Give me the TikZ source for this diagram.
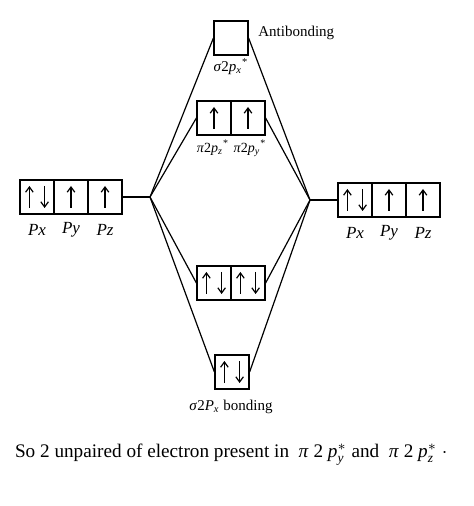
\documentclass[tikz,border=0pt]{standalone}
\usepackage{amsmath}
\usepackage{fontspec}
\setmainfont{Liberation Serif}
\usetikzlibrary{arrows.meta}

\tikzset{
    orb/.style={draw, line width=0.6pt, minimum width=17pt, minimum height=17pt, inner sep=0pt},
    spin/.style={line width=0.6pt, -{Straight Barb[length=2.6pt,width=3.8pt]}},
    lvl/.style={line width=0.6pt},
    plbl/.style={font=\fontsize{8.5}{10}\selectfont\itshape},
    mlbl/.style={font=\fontsize{7.5}{9}\selectfont, inner sep=1pt},
}
\newcommand{\upspin}[2][0pt]{\draw[spin] ([xshift=#1,yshift=-5.5pt]#2.center) -- ([xshift=#1,yshift=5.5pt]#2.center);}
\newcommand{\dnspin}[2][0pt]{\draw[spin] ([xshift=#1,yshift=5.5pt]#2.center) -- ([xshift=#1,yshift=-5.5pt]#2.center);}
\newcommand{\pairspin}[1]{\upspin[-3.8pt]{#1}\dnspin[3.8pt]{#1}}
\newcommand{\orbname}[3]{\textit{#1}2\textit{#2}\textsubscript{\itshape #3}}

\begin{document}
\begin{tikzpicture}[x=0.5pt, y=-0.5pt]
    \useasboundingbox (0,0) rectangle (474,506);

    %atomic orbitals, left and right
        \node[orb] (L1) at (37,197) {};
        \node[orb] (L2) at (71,197) {};
        \node[orb] (L3) at (105,197) {};
        \node[orb] (R1) at (355,200) {};
        \node[orb] (R2) at (389,200) {};
        \node[orb] (R3) at (423,200) {};
        \coordinate[] (jl) at (150,197);
        \coordinate[] (jr) at (310,200);

    %molecular orbitals
        \node[orb] (sgs) at (231,38) {};
        \node[orb] (pis1) at (214,118) {};
        \node[orb] (pis2) at (248,118) {};
        \node[orb] (pi1) at (214,283) {};
        \node[orb] (pi2) at (248,283) {};
        \node[orb] (sg) at (232,372) {};

    %electrons
        \pairspin{L1} \upspin{L2} \upspin{L3}
        \pairspin{R1} \upspin{R2} \upspin{R3}
        \upspin{pis1} \upspin{pis2}
        \pairspin{pi1} \pairspin{pi2}
        \pairspin{sg}

    %correlation lines
        \draw[lvl] (L3.east) -- (jl);
        \draw[lvl] (jr) -- (R1.west);
        \draw[lvl] (jl) -- (sgs.west);
        \draw[lvl] (jl) -- (pis1.west);
        \draw[lvl] (jl) -- (pi1.west);
        \draw[lvl] (jl) -- (sg.west);
        \draw[lvl] (jr) -- (sgs.east);
        \draw[lvl] (jr) -- (pis2.east);
        \draw[lvl] (jr) -- (pi2.east);
        \draw[lvl] (jr) -- (sg.east);

    %labels
        \node[plbl] (tL1) at (37,230) {Px};
        \node[plbl] (tL2) at (71,230) {Py};
        \node[plbl] (tL3) at (105,230) {Pz};
        \node[plbl] (tR1) at (355,233) {Px};
        \node[plbl] (tR2) at (389,233) {Py};
        \node[plbl] (tR3) at (423,233) {Pz};
        \node[mlbl] (tsgs) at (231,67) {\orbname{σ}{p}{x}\textsuperscript{*}};
        \node[mlbl, anchor=west] (tanti) at (256,33) {Antibonding};
        \node[mlbl, font=\fontsize{7}{8}\selectfont] (tpis1) at (213,148) {\orbname{π}{p}{z}\textsuperscript{*}};
        \node[mlbl, font=\fontsize{7}{8}\selectfont] (tpis2) at (250,148) {\orbname{π}{p}{y}\textsuperscript{*}};
        \node[mlbl] (tsg) at (231,407) {\orbname{σ}{P}{x} bonding};
        \node[font=\fontsize{9.6}{11}\selectfont, anchor=west] (note) at (8,455)
            {So 2 unpaired of electron present in \ \textit{π} 2 $\textit{p}^{*}_{\text{\itshape y}}$ and \ \textit{π} 2 $\textit{p}^{*}_{\text{\itshape z}}$ $\cdot$};

\end{tikzpicture}
\end{document}
